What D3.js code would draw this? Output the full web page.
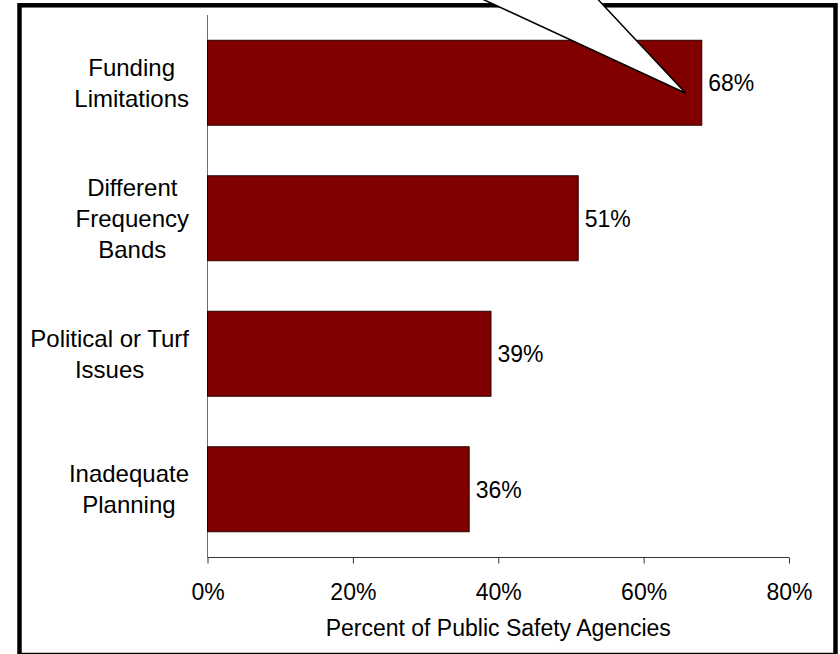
<!DOCTYPE html>
<html>
<head>
<meta charset="utf-8">
<script src="https://cdn.jsdelivr.net/npm/d3@7"></script>
<style>
  body { margin: 0; background: #fff; }
  svg text { font-family: "Liberation Sans", Arial, sans-serif; fill: #000; }
</style>
</head>
<body>
<div id="chart"></div>
<script>
// data
var categories = ["Funding|Limitations", "Different|Frequency|Bands", "Political or Turf|Issues", "Inadequate|Planning"];
var values = [0.68, 0.51, 0.39, 0.36];
var tickValues = [0, 0.2, 0.4, 0.6, 0.8];
var axisTitle = "Percent of Public Safety Agencies";
// callout points at the funding bar
var calloutTarget = {category: 0, value: 0.658};

var width = 840, height = 654;
var plot = {left: 207.5, right: 789, top: 15, bottom: 557};

var svg = d3.select("#chart").append("svg")
    .attr("width", width)
    .attr("height", height);

svg.append("rect").attr("width", width).attr("height", height).attr("fill", "#fff");

// outer frame
svg.append("rect")
   .attr("x", 19.5).attr("y", 5.3)
   .attr("width", 835.5 - 19.5).attr("height", 655 - 5.3)
   .attr("fill", "none").attr("stroke", "#000").attr("stroke-width", 4.5);

var xScale = d3.scaleLinear().domain([0, 0.8]).range([plot.left, plot.right]);
var yScale = d3.scaleBand().domain(d3.range(categories.length))
    .range([plot.top, plot.bottom]).paddingInner(0.373).paddingOuter(0.1865);

// y axis line
svg.append("line")
   .attr("x1", plot.left).attr("x2", plot.left)
   .attr("y1", plot.top).attr("y2", plot.bottom + 0.5)
   .attr("stroke", "#707070").attr("stroke-width", 1);

// bars
svg.append("g")
   .selectAll("rect")
   .data(values).enter()
   .append("rect")
   .attr("x", xScale(0))
   .attr("y", function(d, i) { return yScale(i); })
   .attr("width", function(d) { return xScale(d) - xScale(0); })
   .attr("height", yScale.bandwidth())
   .attr("fill", "#800000")
   .attr("stroke", "#2a0000")
   .attr("stroke-width", 1);

// x axis
var xAxis = d3.axisBottom(xScale).tickValues(tickValues).tickSize(6)
    .tickFormat(d3.format(".0%"));
var xx = svg.append("g")
   .attr("transform", "translate(0," + (plot.bottom + 0.5) + ")")
   .call(xAxis);
xx.select(".domain").attr("stroke", "#333").attr("d", "M" + plot.left + ",0H" + plot.right);
xx.selectAll(".tick line").attr("stroke", "#333");
xx.selectAll(".tick text")
  .attr("y", 42).attr("dy", 0)
  .style("font-size", "23px")
  .style("font-family", "'Liberation Sans', Arial, sans-serif")
  .attr("fill", "#000");

svg.append("text")
   .attr("x", (plot.left + plot.right) / 2)
   .attr("y", 635.5)
   .attr("text-anchor", "middle")
   .style("font-size", "23px")
   .text(axisTitle);

// category labels: block right-aligned, lines centered in block
var lineH = 31, capH = 0.716 * 24, labelRight = 189;
categories.forEach(function(c, i) {
  var lines = c.split("|");
  var cy = yScale(i) + yScale.bandwidth() / 2;
  var g = svg.append("g");
  var texts = lines.map(function(l, k) {
    return g.append("text")
      .attr("y", cy - (lines.length - 1) * lineH / 2 + capH / 2 + k * lineH)
      .attr("text-anchor", "middle")
      .style("font-size", "24px")
      .text(l);
  });
  var maxW = d3.max(texts, function(t) { return t.node().getComputedTextLength(); });
  texts.forEach(function(t) { t.attr("x", labelRight - maxW / 2); });
});

// value labels
svg.append("g")
   .selectAll("text")
   .data(values).enter()
   .append("text")
   .attr("x", function(d) { return xScale(d) + 6.5; })
   .attr("y", function(d, i) { return yScale(i) + yScale.bandwidth() / 2; })
   .attr("dy", "0.38em")
   .style("font-size", "23px")
   .text(d3.format(".0%"));

// callout wedge coming in from above the chart
var tipX = xScale(calloutTarget.value);
var tipY = yScale(calloutTarget.category) + yScale.bandwidth() / 2 + 10.5;
var topY = -20;
var leftSlope = 0.463, rightSlope = 1.068;
var pts = [
  [tipX - (tipY - topY) / leftSlope, topY],
  [tipX, tipY],
  [tipX - (tipY - topY) / rightSlope, topY]
];
svg.append("path")
   .attr("d", d3.line()(pts) + "Z")
   .attr("fill", "#fff")
   .attr("stroke", "#000")
   .attr("stroke-width", 1.5)
   .attr("stroke-linejoin", "miter");
</script>
</body>
</html>
